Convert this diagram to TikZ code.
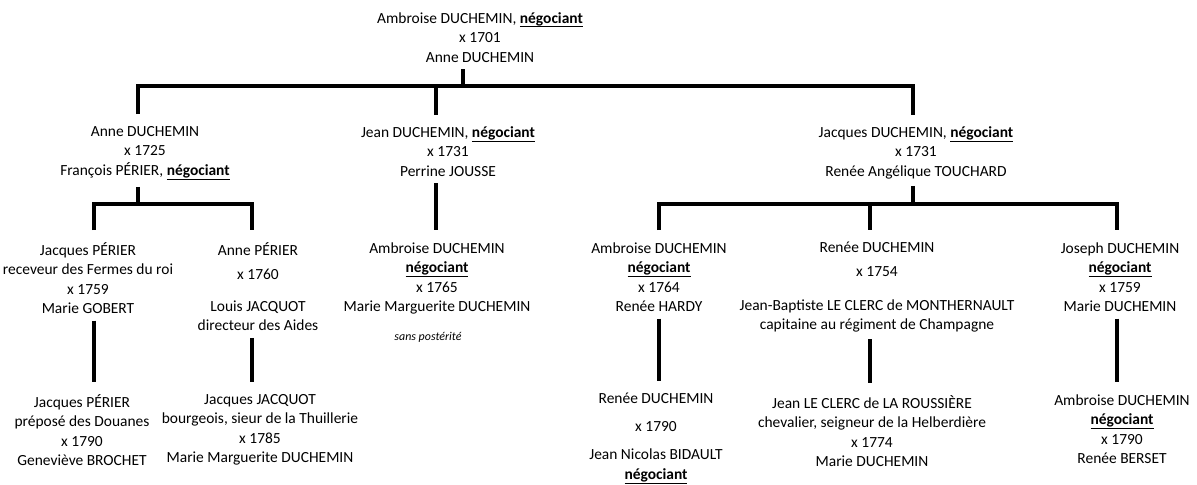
\documentclass[tikz,border=0pt]{standalone}
\usepackage{fontspec}
\setmainfont{Carlito}
\newcommand{\nego}{\underline{\smash{\textbf{négociant}}\rule[-0.7pt]{0pt}{0pt}}}
\tikzset{
  person/.style={anchor=north, align=center, inner sep=0pt, font=\fontsize{8.8}{11.1}\selectfont},
  note/.style={inner sep=0pt, font=\fontsize{6.8}{8}\selectfont\itshape},
  link/.style={line width=1.9pt},
  up/.style={shorten <=0.13cm},
  down/.style={shorten >=0.24cm},
}

\begin{document}
\begin{tikzpicture}[x=0.02cm, y=-0.02cm]
  \useasboundingbox (0,0) rectangle (1197,484);
  % generation 0
  \node[person] (ambroise) at (480,12) {Ambroise DUCHEMIN, \nego\\x 1701\\Anne DUCHEMIN};
  % generation 1
  \node[person] (anne)    at (145,126) {Anne DUCHEMIN\\x 1725\\François PÉRIER, \nego};
  \node[person] (jean)    at (448,127) {Jean DUCHEMIN, \nego\\x 1731\\Perrine JOUSSE};
  \node[person] (jacques) at (916,127) {Jacques DUCHEMIN, \nego\\x 1731\\Renée Angélique TOUCHARD};
  % generation 2
  \node[person] (jperier)   at (88,242)   {Jacques PÉRIER\\receveur des Fermes du roi\\x 1759\\Marie GOBERT};
  \node[person] (aperier)   at (258,242)  {Anne PÉRIER\\[2.6pt]x 1760\\[7.1pt]Louis JACQUOT\\directeur des Aides};
  \node[person] (ambroiseA) at (437,242)  {Ambroise DUCHEMIN\\\nego\\x 1765\\Marie Marguerite DUCHEMIN};
  \node[note]   (sansp)     at (428,337)  {sans postérité};
  \node[person] (ambroiseB) at (659,242)  {Ambroise DUCHEMIN\\\nego\\x 1764\\Renée HARDY};
  \node[person] (renee)     at (877,242)  {Renée DUCHEMIN\\[2.6pt]x 1754\\[7.7pt]Jean-Baptiste LE CLERC de MONTHERNAULT\\capitaine au régiment de Champagne};
  \node[person] (joseph)    at (1120,242) {Joseph DUCHEMIN\\\nego\\x 1759\\Marie DUCHEMIN};
  % generation 3
  \node[person] (jperier2)  at (82,394)   {Jacques PÉRIER\\préposé des Douanes\\x 1790\\Geneviève BROCHET};
  \node[person] (jjacquot)  at (260,394)  {Jacques JACQUOT\\bourgeois, sieur de la Thuillerie\\x 1785\\Marie Marguerite DUCHEMIN};
  \node[person] (renee2)    at (656,393)  {Renée DUCHEMIN\\[4.8pt]x 1790\\[4.8pt]Jean Nicolas BIDAULT\\\nego};
  \node[person] (jleclerc)  at (872,395)  {Jean LE CLERC de LA ROUSSIÈRE\\chevalier, seigneur de la Helberdière\\x 1774\\Marie DUCHEMIN};
  \node[person] (ambroiseC) at (1122,394) {Ambroise DUCHEMIN\\\nego\\x 1790\\Renée BERSET};

  % stem positions and bars
  \foreach \n/\x in {anne/138, jean/436, jacques/913, jperier/94, aperier/252,
                     ambroiseB/659, renee/870, joseph/1117}
    \coordinate (x-\n) at (\x,0);
  \coordinate (bar0) at (463,86);
  \coordinate (barP) at (138,204);
  \coordinate (barJ) at (913,204);

  % generation 0 -> 1
  \draw[link, up] (ambroise.south -| bar0) -- (bar0);
  \draw[link, down, shorten <=0.24cm] (anne.north -| x-anne) |- (bar0) -| (jacques.north -| x-jacques);
  \draw[link, down] (bar0 -| x-jean) -- (jean.north -| x-jean);
  % generation 1 -> 2
  \draw[link, up] (anne.south -| barP) -- (barP);
  \draw[link, down, shorten <=0.24cm] (jperier.north -| x-jperier) |- (barP) -| (aperier.north -| x-aperier);
  \draw[link, up, down] (jean.south -| x-jean) -- (ambroiseA.north -| x-jean);
  \draw[link, up] (jacques.south -| barJ) -- (barJ);
  \draw[link, down, shorten <=0.24cm] (ambroiseB.north -| x-ambroiseB) |- (barJ) -| (joseph.north -| x-joseph);
  \draw[link, down] (barJ -| x-renee) -- (renee.north -| x-renee);
  % generation 2 -> 3
  \draw[link, up, down] (jperier.south -| x-jperier) -- (jperier2.north -| x-jperier);
  \draw[link, up, down] (aperier.south -| x-aperier) -- (jjacquot.north -| x-aperier);
  \draw[link, up, down] (ambroiseB.south -| x-ambroiseB) -- (renee2.north -| x-ambroiseB);
  \draw[link, up, down] (renee.south -| x-renee) -- (jleclerc.north -| x-renee);
  \draw[link, up, down] (joseph.south -| x-joseph) -- (ambroiseC.north -| x-joseph);
\end{tikzpicture}
\end{document}
